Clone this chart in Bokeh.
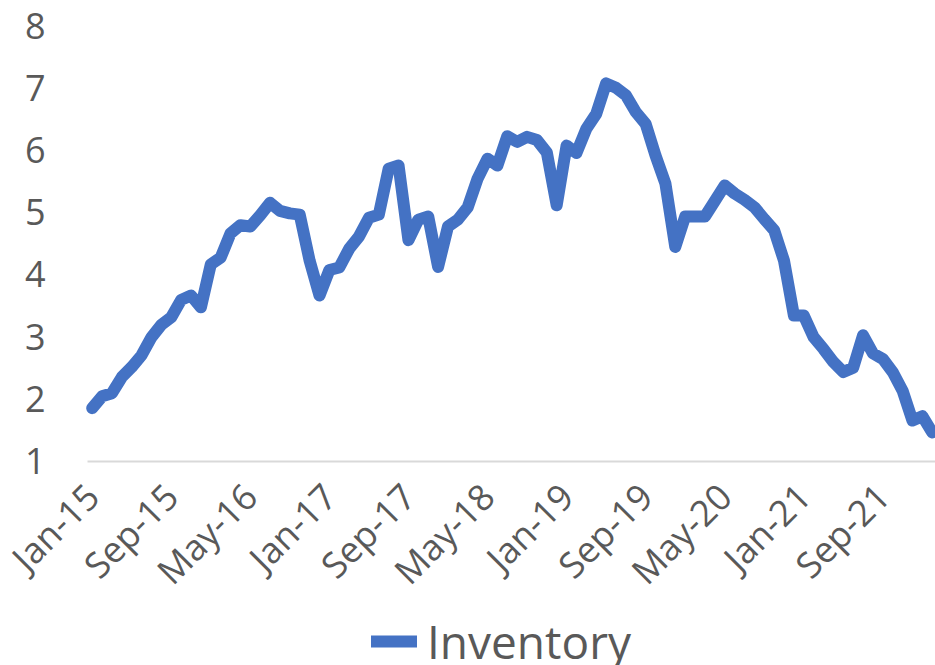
import math
from bokeh.plotting import figure
from bokeh.models import ColumnDataSource, FixedTicker, Legend, LegendItem, Range1d
from bokeh.embed import file_html
from bokeh.resources import INLINE

# monthly inventory, Jan-15 .. Feb-22
inventory = [
    1.85, 2.04, 2.09, 2.35, 2.51, 2.70, 2.99, 3.19, 3.31, 3.59, 3.66, 3.47,
    4.16, 4.27, 4.66, 4.79, 4.77, 4.95, 5.15, 5.02, 4.98, 4.96, 4.22, 3.66,
    4.07, 4.11, 4.41, 4.61, 4.91, 4.96, 5.70, 5.75, 4.55, 4.88, 4.93, 4.12,
    4.77, 4.88, 5.08, 5.54, 5.86, 5.75, 6.22, 6.13, 6.21, 6.16, 5.96, 5.11,
    6.07, 5.95, 6.34, 6.58, 7.07, 7.00, 6.88, 6.61, 6.42, 5.91, 5.46, 4.44,
    4.93, 4.93, 4.93, 5.18, 5.43, 5.30, 5.20, 5.08, 4.89, 4.71, 4.22, 3.34,
    3.34, 2.99, 2.80, 2.59, 2.43, 2.50, 3.02, 2.73, 2.64, 2.43, 2.13, 1.65,
    1.72, 1.46,
]
month_index = list(range(len(inventory)))
tick_positions = [0, 8, 16, 24, 32, 40, 48, 56, 64, 72, 80]
tick_labels = ["Jan-15", "Sep-15", "May-16", "Jan-17", "Sep-17", "May-18",
               "Jan-19", "Sep-19", "May-20", "Jan-21", "Sep-21"]
y_ticks = [1, 2, 3, 4, 5, 6, 7, 8]
y_min, y_max = 1, 8
x_lo, x_hi = -0.476, 85.33

GRAY = "#595959"
FONT = "Open Sans"

source = ColumnDataSource(data=dict(x=month_index, y=inventory))

# the frame fills the whole figure; both axes are pinned inside it
p = figure(width=935, height=665, output_backend="svg", toolbar_location=None,
           x_range=Range1d(-9.28, x_hi), y_range=Range1d(-2.287, 8.402),
           min_border_left=0, min_border_right=0, min_border_top=0,
           min_border_bottom=0)
p.outline_line_color = None
p.xgrid.grid_line_color = None
p.ygrid.grid_line_color = None

r = p.line("x", "y", source=source, line_color="#4472C4", line_width=12,
           line_join="round", line_cap="round")

# x axis
xa = p.xaxis[0]
xa.fixed_location = y_min
xa.bounds = (x_lo, x_hi)
xa.ticker = FixedTicker(ticks=tick_positions)
xa.major_label_overrides = {t: l for t, l in zip(tick_positions, tick_labels)}
xa.major_label_orientation = math.pi / 4
xa.major_label_text_font = FONT
xa.major_label_text_font_size = "36px"
xa.major_label_text_color = GRAY
xa.major_label_standoff = 23
xa.major_tick_line_color = None
xa.minor_tick_line_color = None
xa.axis_line_color = "#D9D9D9"
xa.axis_line_width = 2

# y axis
ya = p.yaxis[0]
ya.fixed_location = x_lo
ya.bounds = (y_min, y_max)
ya.ticker = FixedTicker(ticks=y_ticks)
ya.major_label_text_font = FONT
ya.major_label_text_font_size = "36px"
ya.major_label_text_color = GRAY
ya.major_label_standoff = 36
ya.major_tick_line_color = None
ya.minor_tick_line_color = None
ya.axis_line_color = None

legend = Legend(items=[LegendItem(label="Inventory", renderers=[r])],
                location=(371, -7), orientation="horizontal",
                glyph_width=46, glyph_height=40, label_standoff=10,
                padding=0, margin=0, spacing=0,
                border_line_color=None, background_fill_alpha=0,
                label_text_font=FONT, label_text_font_size="46px",
                label_text_color=GRAY)
p.add_layout(legend, "center")

open("out.html", "w").write(file_html(p, INLINE))
